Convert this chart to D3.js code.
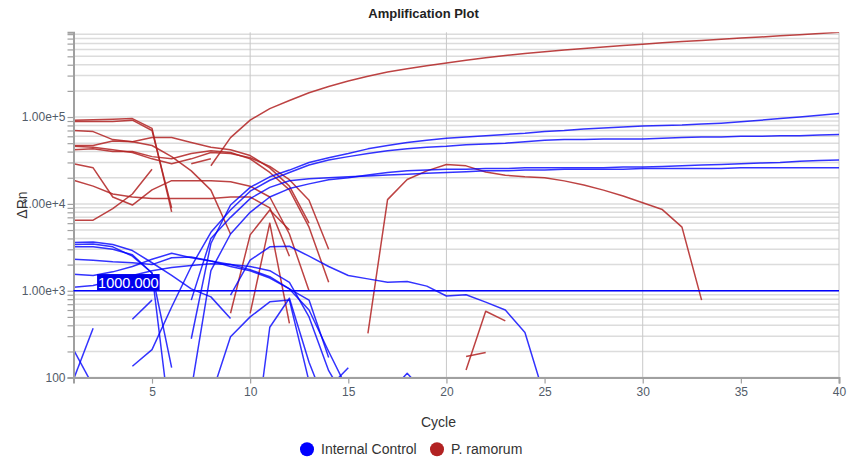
<!DOCTYPE html>
<html><head><meta charset="utf-8">
<script src="https://cdn.jsdelivr.net/npm/d3@7/dist/d3.min.js"></script>
<style>
body{margin:0;background:#fff;font-family:"Liberation Sans",Arial,sans-serif;}
</style></head>
<body><svg id="chart" width="847" height="463"></svg>
<script>
const _ = null;
const cycles = d3.range(1, 41);
const xTicks = [5, 10, 15, 20, 25, 30, 35, 40];
const xGrid = [10, 20, 30, 40];
const yLabelTicks = [100, 1000, 10000, 100000];
const threshold = 1000;
const seriesNames = ["Internal Control", "P. ramorum"];

// Internal Control curves (values per cycle 1..40, null = not plotted)
const ic1 = [_,_,_,_,_,_,280,3500,9700,15500,20500,24500,30000,34000,38000,43000,47000,51000,54000,57000,59000,61000,63000,65000,68000,70000,73000,75000,77000,79000,80000,81000,83000,85000,88000,92000,96000,100000,105000,110000];
const ic2 = [_,_,_,135,210,650,1900,4700,8500,14000,18700,23000,28000,32000,35000,38000,41000,43000,45000,46000,48000,49000,50000,52000,54000,55000,55000,56000,56000,56000,57000,58000,59000,59000,60000,60000,61000,61000,62000,63000];
const ic3 = [_,_,_,_,_,_,72,1700,4500,8000,12000,15000,17000,19000,20000,21500,23000,24000,24500,25000,25000,25500,25500,26000,26000,26000,26000,26000,26500,26500,27000,27500,28000,28500,29000,29500,30000,31000,31500,32000];
const ic4 = [_,_,_,_,_,_,780,4000,7000,11500,15500,18500,19500,20000,20500,21000,21500,22000,22500,23000,23500,24000,24000,24500,24500,25000,25000,25000,25000,25500,25500,25500,25500,25500,26000,26000,26000,26000,26000,26000];
const ic5 = [_,_,_,_,_,_,_,_,890,2250,3200,3250,2500,1900,1500,1370,1250,1280,1130,870,900,740,600,330,60,_,_,_,_,_,_,_,_,_,_,_,_,_,_,_];
const ic6 = [3600,3650,3400,2900,2100,1500,1050,850,480,_,_,_,_,_,_,_,_,_,_,_,_,_,_,_,_,_,_,_,_,_,_,_,_,_,_,_,_,_,_,_];
const ic7 = [3400,3450,3200,2500,1600,22,_,_,_,_,_,_,_,_,_,_,_,_,_,_,_,_,_,_,_,_,_,_,_,_,_,_,_,_,_,_,_,_,_,_];
const ic8 = [3200,3200,3000,2600,1600,130,_,_,_,_,_,_,_,_,_,_,_,_,_,_,_,_,_,_,_,_,_,_,_,_,_,_,_,_,_,_,_,_,_,_];
const ic9 = [2300,2250,2150,2100,2000,2400,2450,2200,2000,1750,1450,1050,780,170,_,_,_,_,_,_,_,_,_,_,_,_,_,_,_,_,_,_,_,_,_,_,_,_,_,_];
const ic10 = [1550,1500,1650,1900,2300,2700,2400,2200,1900,1700,1400,1050,600,200,70,_,_,_,_,_,_,_,_,_,_,_,_,_,_,_,_,_,_,_,_,_,_,_,_,_];
const ic11 = [1100,1150,1300,1500,1700,1850,1950,2050,2000,1900,1700,1250,500,120,50,_,_,_,_,_,_,_,_,_,_,_,_,_,_,_,_,_,_,_,_,_,_,_,_,_];
const ic12 = [_,_,_,_,_,_,_,60,295,500,745,780,90,_,_,_,_,_,_,_,_,_,_,_,_,_,_,_,_,_,_,_,_,_,_,_,_,_,_,_];
const ic13 = [_,_,_,_,_,_,_,_,_,7,380,820,150,40,_,_,_,_,_,_,_,_,_,_,_,_,_,_,_,_,_,_,_,_,_,_,_,_,_,_];
const ic14 = [210,80,_,_,_,_,_,_,_,_,_,_,_,_,_,_,_,_,_,_,_,_,_,_,_,_,_,_,_,_,_,_,_,_,_,_,_,_,_,_];
const ic15 = [95,370,_,_,_,_,_,_,_,_,_,_,_,_,_,_,_,_,_,_,_,_,_,_,_,_,_,_,_,_,_,_,_,_,_,_,_,_,_,_];
const ic16 = [_,_,_,470,780,_,_,_,_,_,_,_,_,_,_,_,_,_,_,_,_,_,_,_,_,_,_,_,_,_,_,_,_,_,_,_,_,_,_,_];
const ic17 = [_,_,_,_,_,_,_,_,_,_,_,_,_,76,130,_,_,_,_,_,_,_,_,_,_,_,_,_,_,_,_,_,_,_,_,_,_,_,_,_];
const ic18 = [_,_,_,_,_,_,_,_,_,_,_,_,_,_,_,_,64,112,64,_,_,_,_,_,_,_,_,_,_,_,_,_,_,_,_,_,_,_,_,_];

// P. ramorum curves
const pr1 = [92000,93000,94000,96000,74000,8100,_,_,_,_,_,_,_,_,_,_,_,_,_,_,_,_,_,_,_,_,_,_,_,_,_,_,_,_,_,_,_,_,_,_];
const pr2 = [89000,89000,89000,92000,70000,9000,_,_,_,_,_,_,_,_,_,_,_,_,_,_,_,_,_,_,_,_,_,_,_,_,_,_,_,_,_,_,_,_,_,_];
const pr3 = [70000,68000,55000,52000,47000,35000,24000,14400,4500,_,_,_,_,_,_,_,_,_,_,_,_,_,_,_,_,_,_,_,_,_,_,_,_,_,_,_,_,_,_,_];
const pr4 = [47000,47000,53000,52000,58000,58000,51000,45000,42000,36000,26000,16000,6000,_,_,_,_,_,_,_,_,_,_,_,_,_,_,_,_,_,_,_,_,_,_,_,_,_,_,_];
const pr5 = [42000,43000,40000,40000,35000,33000,38000,41000,39000,33000,23000,14500,5400,1250,_,_,_,_,_,_,_,_,_,_,_,_,_,_,_,_,_,_,_,_,_,_,_,_,_,_];
const pr6 = [46000,45000,42000,39000,33000,29000,33000,39000,38000,34000,27000,19000,11000,3000,_,_,_,_,_,_,_,_,_,_,_,_,_,_,_,_,_,_,_,_,_,_,_,_,_,_];
const pr7 = [29000,26000,12000,9700,14500,18500,18500,18500,18000,16000,12000,4500,1000,_,_,_,_,_,_,_,_,_,_,_,_,_,_,_,_,_,_,_,_,_,_,_,_,_,_,_];
const pr8 = [18700,16000,13000,12000,11500,11500,11500,11500,12000,12000,9000,2500,_,_,_,_,_,_,_,_,_,_,_,_,_,_,_,_,_,_,_,_,_,_,_,_,_,_,_,_];
const pr9 = [6500,6500,8800,13000,25000,_,_,_,_,_,_,_,_,_,_,_,_,_,_,_,_,_,_,_,_,_,_,_,_,_,_,_,_,_,_,_,_,_,_,_];
const pr10 = [_,_,_,_,_,_,29000,33000,_,_,_,_,_,_,_,_,_,_,_,_,_,_,_,_,_,_,_,_,_,_,_,_,_,_,_,_,_,_,_,_];
const pr11 = [_,_,_,_,_,_,_,_,550,4400,8500,5000,_,_,_,_,_,_,_,_,_,_,_,_,_,_,_,_,_,_,_,_,_,_,_,_,_,_,_,_];
const pr12 = [_,_,_,_,_,_,_,_,_,550,6000,420,_,_,_,_,_,_,_,_,_,_,_,_,_,_,_,_,_,_,_,_,_,_,_,_,_,_,_,_];
const pr13 = [_,_,_,_,_,_,_,27500,58000,92000,125000,155000,190000,225000,260000,295000,330000,360000,390000,420000,450000,480000,510000,540000,565000,590000,615000,640000,665000,690000,715000,740000,760000,785000,810000,835000,860000,885000,915000,945000];
const pr14 = [_,_,_,_,_,_,_,_,_,_,_,_,_,_,_,323,11200,19100,24000,28400,27400,23300,21400,20500,20000,18400,16500,14400,12300,10300,8600,5400,780,_,_,_,_,_,_,_];
const pr15 = [_,_,_,_,_,_,_,_,_,_,_,_,_,_,_,_,_,_,_,_,122,580,450,_,_,_,_,_,_,_,_,_,_,_,_,_,_,_,_,_];
const pr16 = [_,_,_,_,_,_,_,_,_,_,_,_,_,_,_,_,_,_,_,_,175,195,_,_,_,_,_,_,_,_,_,_,_,_,_,_,_,_,_,_];

const internalControl = [ic1,ic2,ic3,ic4,ic5,ic6,ic7,ic8,ic9,ic10,ic11,ic12,ic13,ic14,ic15,ic16,ic17,ic18];
const ramorum = [pr1,pr2,pr3,pr4,pr5,pr6,pr7,pr8,pr9,pr10,pr11,pr12,pr13,pr14,pr15,pr16];

const colors = {"Internal Control": "#0000ff", "P. ramorum": "#b22222"};

const svg = d3.select("#chart");
const L = 73.5, R = 839, T = 32.3, B = 377.6;
const yMax = d3.max([...internalControl, ...ramorum].flat().filter(v => v != null));
const x = d3.scaleLinear().domain([1, 40]).range([L, R]);
const y = d3.scaleLog().domain([100, yMax]).range([B, T]);

// grid
const grid = svg.append("g");
grid.selectAll("line.h").data(y.ticks()).join("line")
  .attr("x1", L).attr("x2", R).attr("y1", d => y(d)).attr("y2", d => y(d))
  .attr("stroke", "#dcdcdc").attr("stroke-width", 1.5);
grid.selectAll("line.v").data(xGrid).join("line")
  .attr("x1", d => x(d)).attr("x2", d => x(d)).attr("y1", T).attr("y2", B)
  .attr("stroke", "#c8c8c8").attr("stroke-width", 1);

// clip
svg.append("clipPath").attr("id", "clip").append("rect")
  .attr("x", L).attr("y", T).attr("width", R - L).attr("height", B - T);

const line = d3.line()
  .defined(d => d[1] != null && d[1] > 0)
  .x(d => x(d[0])).y(d => y(d[1]));

const plot = svg.append("g").attr("clip-path", "url(#clip)");
function drawSeries(list, name, op) {
  plot.append("g").selectAll("path").data(list).join("path")
    .attr("d", s => line(s.map((v, i) => [cycles[i], v])))
    .attr("fill", "none").attr("stroke", colors[name])
    .attr("stroke-width", 1.5).attr("stroke-opacity", op)
    .attr("stroke-linejoin", "round");
}
drawSeries(ramorum, "P. ramorum", 0.85);
drawSeries(internalControl, "Internal Control", 0.8);

// axes
const fmt = d => d >= 1000 ? d.toExponential(2).replace("e+", "e+") : String(d);
const yAxis = d3.axisLeft(y).tickValues(y.ticks()).tickSize(6).tickSizeOuter(6)
  .tickFormat(d => yLabelTicks.includes(d) ? fmt(d) : "");
const gy = svg.append("g").attr("transform", `translate(${L},0)`).call(yAxis);
const xAxis = d3.axisBottom(x).tickValues(xTicks).tickSize(6).tickSizeOuter(6);
const gx = svg.append("g").attr("transform", `translate(0,${B})`).call(xAxis);
[gx, gy].forEach(g => {
  g.select(".domain").attr("stroke", "#a0a0a0").attr("stroke-width", 2);
  g.selectAll(".tick line").attr("stroke", "#a0a0a0").attr("stroke-width", 1.2);
  g.selectAll("text").attr("fill", "#525c69").attr("font-size", 12)
    .attr("font-family", "'Liberation Sans', Arial, sans-serif");
});
gy.selectAll("text").attr("x", -8);
gx.selectAll("text").attr("y", 10);

// threshold
svg.append("line").attr("x1", L).attr("x2", R)
  .attr("y1", y(threshold)).attr("y2", y(threshold))
  .attr("stroke", "#0000ff").attr("stroke-width", 1.5);
svg.append("rect").attr("x", x(2.2)).attr("y", y(threshold) - 16.7)
  .attr("width", 62.6).attr("height", 16.7).attr("fill", "#0000ee");
svg.append("text").attr("x", x(2.2) + 31.3).attr("y", y(threshold) - 3)
  .attr("text-anchor", "middle").attr("fill", "#fff").attr("font-size", 14.5)
  .text(threshold.toFixed(3));

// title and labels
svg.append("text").attr("x", 423.5).attr("y", 18).attr("text-anchor", "middle")
  .attr("font-weight", "bold").attr("font-size", 13).attr("fill", "#222")
  .text("Amplification Plot");
svg.append("text").attr("transform", "translate(27,205) rotate(-90)")
  .attr("text-anchor", "middle").attr("font-size", 14).attr("fill", "#333").text("ΔRn");
svg.append("text").attr("x", 438.5).attr("y", 426.5).attr("text-anchor", "middle")
  .attr("font-size", 14).attr("fill", "#333").text("Cycle");

// legend
const legendX = [307, 437];
const lg = svg.append("g");
seriesNames.forEach((n, i) => {
  lg.append("circle").attr("cx", legendX[i]).attr("cy", 449.3).attr("r", 7).attr("fill", colors[n]);
  lg.append("text").attr("x", legendX[i] + 14).attr("y", 454.3).attr("font-size", 14)
    .attr("fill", "#333").text(n);
});
</script></body></html>
